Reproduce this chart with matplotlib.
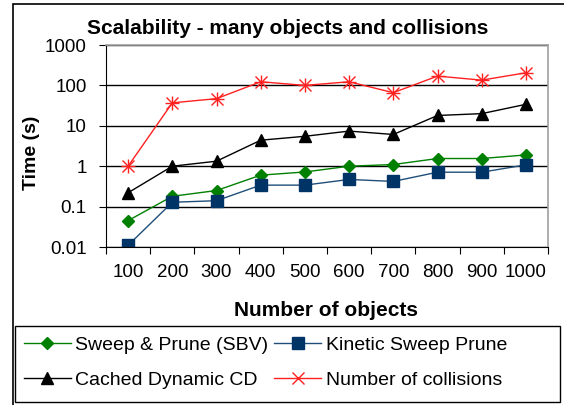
import matplotlib
matplotlib.use("Agg")
import matplotlib.pyplot as plt
from matplotlib.patches import Rectangle

plt.rcParams['font.family'] = ['Liberation Sans', 'DejaVu Sans']

# Data
n_objects = [100, 200, 300, 400, 500, 600, 700, 800, 900, 1000]
sweep_prune = [0.045, 0.18, 0.25, 0.6, 0.72, 1.0, 1.1, 1.55, 1.55, 1.9]
kinetic_sp = [0.011, 0.128, 0.14, 0.34, 0.34, 0.47, 0.42, 0.71, 0.71, 1.08]
cached_dcd = [0.22, 1.0, 1.33, 4.4, 5.5, 7.4, 6.1, 18, 20, 34]
collisions = [1.0, 37, 47, 123, 100, 123, 66, 170, 135, 205]
y_ticks = [0.01, 0.1, 1, 10, 100, 1000]
y_labels = ['0.01', '0.1', '1', '10', '100', '1000']

W, H = 564, 405
fig = plt.figure(figsize=(W / 100, H / 100), dpi=100)
ax = fig.add_axes([106 / W, 1 - 247 / H, (548 - 106) / W, (247 - 45) / H])

x = list(range(len(n_objects)))
l1, = ax.plot(x, sweep_prune, color='#008000', marker='D', markersize=6, lw=1,
              label='Sweep & Prune (SBV)')
l2, = ax.plot(x, kinetic_sp, color='#1f4e79', marker='s', markersize=8, lw=1,
              markerfacecolor='#003366', markeredgecolor='#003366',
              label='Kinetic Sweep Prune')
l3, = ax.plot(x, cached_dcd, color='black', marker='^', markersize=8, lw=1,
              label='Cached Dynamic CD')
l4, = ax.plot(x, collisions, color='#ff2020', marker='x', markersize=8, lw=1,
              label='Number of collisions')
ax.plot(x, collisions, color='#ff2020', marker='+', markersize=10, lw=0)

ax.set_yscale('log')
ax.set_ylim(0.01, 1000)
ax.set_yticks(y_ticks)
ax.set_yticklabels(y_labels)
ax.yaxis.set_minor_locator(plt.NullLocator())
ax.grid(axis='y', color='black', lw=1)

ax.set_xlim(-0.5, len(n_objects) - 0.5)
ax.set_xticks([i - 0.5 for i in range(len(n_objects) + 1)])
ax.set_xticklabels([])
ax.set_xticks(x, minor=True)
ax.set_xticklabels([str(v) for v in n_objects], minor=True)
ax.tick_params(axis='x', which='major', direction='out', length=5, color='black')
ax.tick_params(axis='x', which='minor', length=0, pad=12)
ax.tick_params(axis='y', direction='out', length=5, pad=9)
ax.tick_params(which='both', labelsize=13.5)

for s in ['top', 'right']:
    ax.spines[s].set_color('#a0a0a0')
    ax.spines[s].set_linewidth(1.2)
for s in ['left', 'bottom']:
    ax.spines[s].set_color('black')

fig.text(32 / W, 1 - 153 / H, 'Time (s)', fontsize=14, fontweight='bold',
         rotation=90, ha='center', va='center')
fig.text(326 / W, 1 - 311 / H, 'Number of objects', fontsize=15,
         fontweight='bold', ha='center', va='center')
fig.text(288 / W, 1 - 28 / H, 'Scalability - many objects and collisions',
         fontsize=15, fontweight='bold', ha='center', va='center')

# matplotlib fills legend columns first, so order to get row-wise layout
leg = fig.legend([l1, l3, l2, l4],
                 [l1.get_label(), l3.get_label(), l2.get_label(), l4.get_label()],
                 ncol=2, loc='upper left',
                 bbox_to_anchor=(20 / W, 1 - 332 / H),
                 fontsize=14, frameon=False, handlelength=2.4,
                 borderaxespad=0, borderpad=0.2, columnspacing=0.3,
                 handletextpad=0.25, labelspacing=0.9)

fig.patches.append(Rectangle((15 / W, 3 / H), (560 - 15) / W, (402 - 326) / H,
                             transform=fig.transFigure, fill=False,
                             edgecolor='black', lw=1))
fig.patches.append(Rectangle((13 / W, -0.01), 1.0, 1 - 4 / H + 0.01,
                             transform=fig.transFigure, fill=False,
                             edgecolor='black', lw=1.2))

fig.savefig('out.png', dpi=100)
